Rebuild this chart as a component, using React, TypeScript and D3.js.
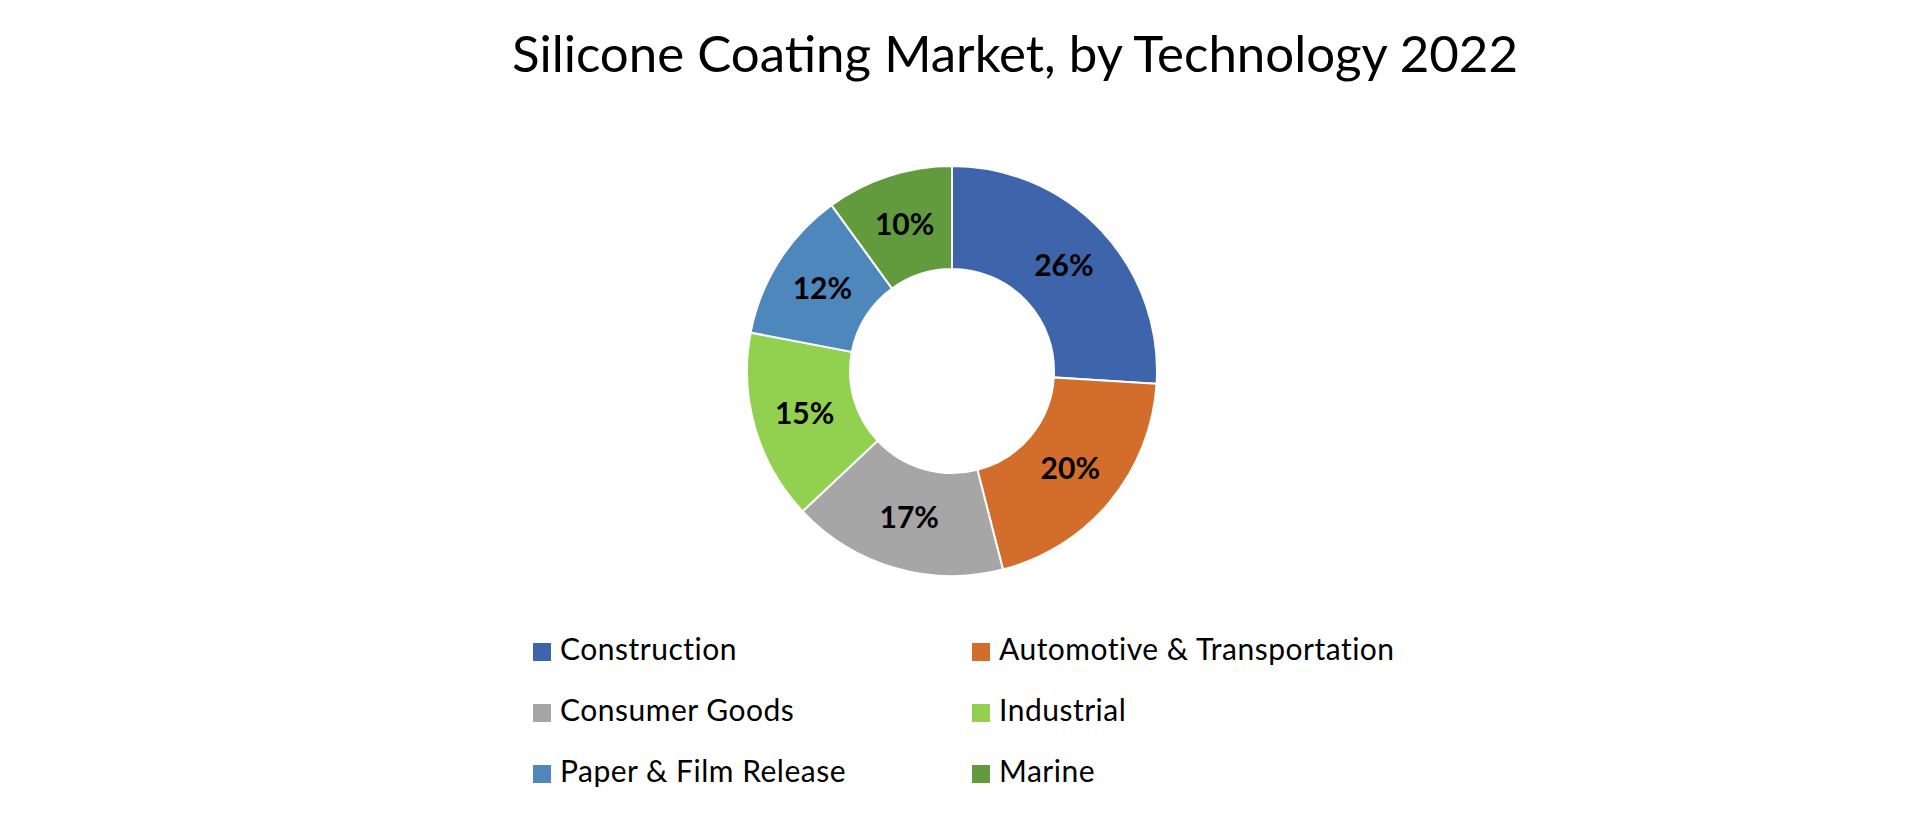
import React from "react";
import * as d3 from "d3";

const categories = [
  "Construction",
  "Automotive & Transportation",
  "Consumer Goods",
  "Industrial",
  "Paper & Film Release",
  "Marine",
];
const shares = [26, 20, 17, 15, 12, 10];
const colors = ["#3E64AC", "#D26D2B", "#A6A6A6", "#92D050", "#4E87BB", "#629B3D"];
const title = "Silicone Coating Market, by Technology 2022";

const W = 1920;
const H = 818;
const cx = 952;
const cy = 371;
const outerR = 205;
const innerR = 102;

export default function App() {
  const data = categories.map((c, i) => ({ name: c, value: shares[i], color: colors[i] }));
  const pie = d3.pie<any>().value((d) => d.value).sort(null);
  const arcs = pie(data);
  const arc = d3.arc<any>().innerRadius(innerR).outerRadius(outerR);

  const legendX = d3.scalePoint<number>().domain([0, 1]).range([533, 972]);
  const legendY = d3.scalePoint<number>().domain([0, 1, 2]).range([660, 782]);

  return (
    <svg
      width={W}
      height={H}
      style={{ position: "absolute", left: 0, top: 0, background: "#fff" }}
    >
      <text
        x={1015}
        y={72}
        textAnchor="middle"
        fontFamily="Lato, 'Noto Sans', sans-serif"
        fontSize={51}
        fill="#000"
      >
        {title}
      </text>
      <g transform={`translate(${cx},${cy})`}>
        {arcs.map((a, i) => (
          <path key={i} d={arc(a) as string} fill={a.data.color} stroke="#fff" strokeWidth={2} />
        ))}
        {arcs.map((a, i) => {
          const [x, y] = arc.centroid(a);
          return (
            <text
              key={"l" + i}
              x={x}
              y={y + 10}
              textAnchor="middle"
              fontFamily="Lato, 'Noto Sans', sans-serif"
              fontWeight="bold"
              fontSize={30}
              fill="#000"
            >
              {a.data.value}%
            </text>
          );
        })}
      </g>
      {data.map((d, i) => {
        const col = i % 2;
        const row = Math.floor(i / 2);
        const x = legendX(col) as number;
        const y = legendY(row) as number;
        return (
          <g key={"lg" + i}>
            <rect x={x} y={y - 17} width={18} height={18} fill={d.color} />
            <text
              x={x + 27}
              y={y}
              fontFamily="Lato, 'Noto Sans', sans-serif"
              fontSize={30}
              letterSpacing={0.5}
              fill="#000"
            >
              {d.name}
            </text>
          </g>
        );
      })}
    </svg>
  );
}
